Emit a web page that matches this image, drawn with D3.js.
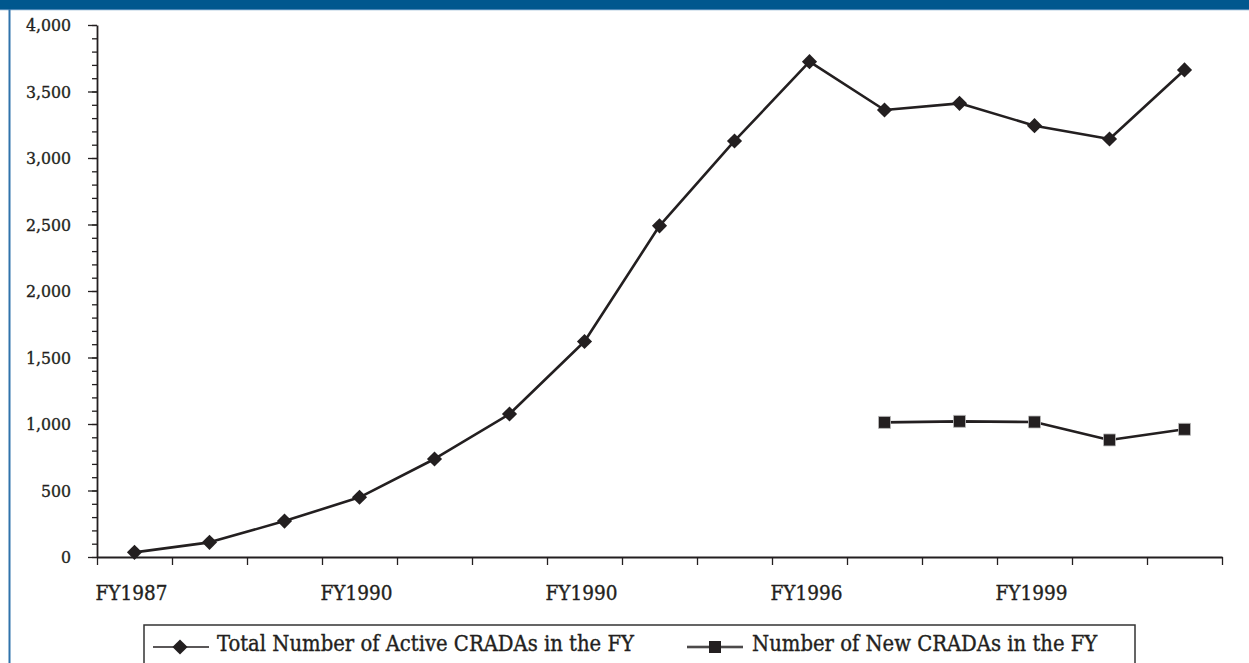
<!DOCTYPE html>
<html>
<head>
<meta charset="utf-8">
<script src="https://cdn.jsdelivr.net/npm/d3@7"></script>
<style>
  html, body { margin: 0; padding: 0; background: #fff; }
  svg { display: block; }
  text { font-family: "DejaVu Serif Condensed", "DejaVu Serif", serif; font-stretch: condensed; fill: #231f20; stroke: #231f20; stroke-width: 0.35px; }
</style>
</head>
<body>
<svg id="chart" width="1249" height="663"></svg>
<script>
// ---- data ----
const categories = ["FY1987","FY1988","FY1989","FY1990","FY1991","FY1992","FY1993","FY1994","FY1995","FY1996","FY1997","FY1998","FY1999","FY2000","FY2001"];
const tickLabels = ["FY1987","","","FY1990","","","FY1990","","","FY1996","","","FY1999","",""];
const totalActive = [35, 110, 270, 449, 737, 1075, 1620, 2490, 3128, 3724, 3361, 3411, 3243, 3143, 3662];
const newCradas  = [null, null, null, null, null, null, null, null, null, null, 1012, 1020, 1015, 880, 960];
const yTicks = [0, 500, 1000, 1500, 2000, 2500, 3000, 3500, 4000];
const seriesNames = ["Total Number of Active CRADAs in the FY", "Number of New CRADAs in the FY"];

const svg = d3.select("#chart");
const ink = "#231f20";

// frame: top bar and left rule
svg.append("rect").attr("x", 0).attr("y", 0).attr("width", 1249).attr("height", 9).attr("fill", "#00578e");
svg.append("rect").attr("x", 0).attr("y", 9).attr("width", 1249).attr("height", 1.2).attr("fill", "#4a86b6");
svg.append("rect").attr("x", 8.5).attr("y", 9).attr("width", 2).attr("height", 663).attr("fill", "#2f73ab");

const pLeft = 97, pRight = 1222, pTop = 25, pBottom = 557;
const x = d3.scaleBand().domain(categories).range([pLeft, pRight]);
const xEdge = d3.scaleLinear().domain([0, categories.length]).range([pLeft, pRight]);
const y = d3.scaleLinear().domain([0, 4000]).range([pBottom, pTop]);

// y axis minor ticks
const yMinor = d3.range(0, 4001, 100);
svg.append("g").attr("transform", `translate(${pLeft},0)`)
  .call(d3.axisLeft(y).tickValues(yMinor).tickSize(5).tickFormat(""))
  .call(g => g.select(".domain").remove())
  .call(g => g.selectAll("line").attr("stroke", ink).attr("stroke-width", 1.3));

// y axis major
svg.append("g").attr("transform", `translate(${pLeft},0)`)
  .call(d3.axisLeft(y).tickValues(yTicks).tickSize(9).tickSizeOuter(0).tickPadding(17).tickFormat(d3.format(",")))
  .call(g => g.select(".domain").attr("stroke", ink).attr("stroke-width", 1.8))
  .call(g => g.selectAll("line").attr("stroke", ink).attr("stroke-width", 1.3))
  .call(g => g.selectAll("text").attr("font-size", 17.5).attr("fill", ink));

// x axis
svg.append("g").attr("transform", `translate(0,${pBottom})`)
  .call(d3.axisBottom(xEdge).tickValues(d3.range(categories.length + 1)).tickSize(8).tickSizeOuter(0).tickFormat(""))
  .call(g => g.select(".domain").attr("stroke", ink).attr("stroke-width", 1.8))
  .call(g => g.selectAll("line").attr("stroke", ink).attr("stroke-width", 1.3));

svg.append("g").selectAll("text")
  .data(categories)
  .join("text")
  .attr("x", d => x(d) + x.bandwidth() / 2 - 3)
  .attr("y", 600)
  .attr("text-anchor", "middle")
  .attr("font-size", 20.5)
  .text((d, i) => tickLabels[i]);

// lines
const line = d3.line()
  .defined(d => d.v != null)
  .x(d => x(d.c) + x.bandwidth() / 2)
  .y(d => y(d.v));

const totalData = categories.map((c, i) => ({ c, v: totalActive[i] }));
const newData = categories.map((c, i) => ({ c, v: newCradas[i] }));

svg.append("path").datum(totalData).attr("d", line)
  .attr("fill", "none").attr("stroke", ink).attr("stroke-width", 2.6).attr("stroke-linejoin", "round");
svg.append("path").datum(newData).attr("d", line)
  .attr("fill", "none").attr("stroke", ink).attr("stroke-width", 2.6).attr("stroke-linejoin", "round");

const diamond = d3.symbol().type(d3.symbolSquare).size(115);
svg.append("g").selectAll("path")
  .data(totalData.filter(d => d.v != null))
  .join("path")
  .attr("d", diamond)
  .attr("transform", d => `translate(${x(d.c) + x.bandwidth() / 2},${y(d.v)}) rotate(45)`)
  .attr("fill", ink);

const square = d3.symbol().type(d3.symbolSquare).size(144);
svg.append("g").selectAll("path")
  .data(newData.filter(d => d.v != null))
  .join("path")
  .attr("d", square)
  .attr("transform", d => `translate(${x(d.c) + x.bandwidth() / 2},${y(d.v)})`)
  .attr("fill", ink)
  .attr("stroke", "#bbb").attr("stroke-width", 0.8);

// legend
const lg = svg.append("g");
lg.append("rect").attr("x", 144).attr("y", 625).attr("width", 991).attr("height", 60)
  .attr("fill", "#fff").attr("stroke", "#333").attr("stroke-width", 1.5);

const ly = 647;
// series 1
lg.append("line").attr("x1", 153).attr("x2", 209).attr("y1", ly).attr("y2", ly).attr("stroke", ink).attr("stroke-width", 1.5);
lg.append("path").attr("d", diamond).attr("transform", `translate(180,${ly}) rotate(45)`).attr("fill", ink);
lg.append("text").attr("x", 217).attr("y", 651).attr("font-size", 21.8).text(seriesNames[0]);
// series 2
lg.append("line").attr("x1", 687).attr("x2", 743).attr("y1", ly).attr("y2", ly).attr("stroke", "#c8c8c8").attr("stroke-width", 4);
lg.append("line").attr("x1", 687).attr("x2", 743).attr("y1", ly).attr("y2", ly).attr("stroke", ink).attr("stroke-width", 1.3);
lg.append("path").attr("d", square).attr("transform", `translate(715,${ly})`).attr("fill", ink);
lg.append("text").attr("x", 752).attr("y", 651).attr("font-size", 21.8).text(seriesNames[1]);
</script>
</body>
</html>
